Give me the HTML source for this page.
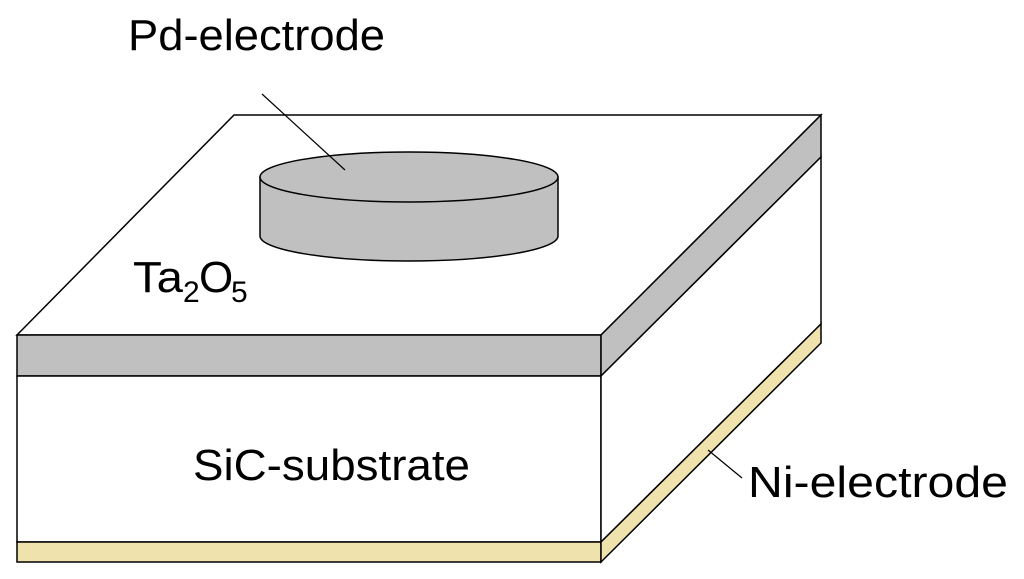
<!DOCTYPE html>
<html><head><meta charset="utf-8"><style>
html,body{margin:0;padding:0;background:#fff;}
svg{display:block;}
text{font-family:"Liberation Sans",sans-serif;fill:#000;}
</style></head><body>
<svg width="1024" height="579" viewBox="0 0 1024 579" xmlns="http://www.w3.org/2000/svg">
<g stroke="#000" stroke-width="1.5" stroke-linejoin="miter">
<!-- top face -->
<polygon points="17,335 234,115 821,115 601,335" fill="#fff"/>
<!-- front gray -->
<rect x="17" y="335" width="584" height="41" fill="#c0c0c0"/>
<!-- front white -->
<rect x="17" y="376" width="584" height="166" fill="#fff"/>
<!-- front yellow -->
<rect x="17" y="542" width="584" height="20" fill="#f0e2ac"/>
<!-- right gray -->
<polygon points="601,335 821,115 821,157 601,376" fill="#c0c0c0"/>
<!-- right white -->
<polygon points="601,376 821,157 821,324 601,542" fill="#fff"/>
<!-- right yellow -->
<polygon points="601,542 821,324 821,343 601,562" fill="#f0e2ac"/>
<!-- cylinder -->
<path d="M260,177 L260,236 A149,25 0 0 0 558,236 L558,177 Z" fill="#c0c0c0"/>
<ellipse cx="409" cy="177" rx="149" ry="25" fill="#c0c0c0"/>
</g>
<g stroke="#000" stroke-width="1.2">
<line x1="262" y1="94" x2="345" y2="170"/>
<line x1="708" y1="450" x2="742" y2="478"/>
</g>
<text x="128" y="50" font-size="44" textLength="257" lengthAdjust="spacingAndGlyphs">Pd-electrode</text>
<text x="133" y="292" font-size="44" textLength="50" lengthAdjust="spacingAndGlyphs">Ta</text>
<text x="183" y="302" font-size="30">2</text>
<text x="199" y="292" font-size="44">O</text>
<text x="231" y="302" font-size="30">5</text>
<text x="193" y="480" font-size="44" textLength="277" lengthAdjust="spacingAndGlyphs">SiC-substrate</text>
<text x="748" y="497" font-size="44" textLength="260" lengthAdjust="spacingAndGlyphs">Ni-electrode</text>
</svg>
</body></html>
